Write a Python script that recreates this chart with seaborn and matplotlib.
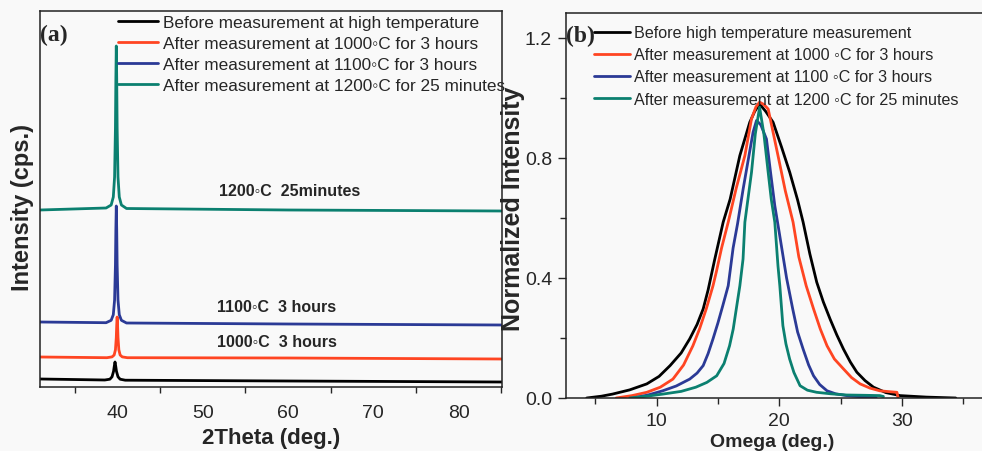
"""XRD 2theta scans and omega rocking curves after high temperature measurement."""

import matplotlib

matplotlib.use("Agg")
import matplotlib.pyplot as plt
import pandas as pd
import seaborn as sns
from matplotlib.ticker import MultipleLocator, NullLocator

# ---- panel (a): 2theta scans (offset, arbitrary cps) ----
theta_black = [30.9, 38.5, 39.1, 39.35, 39.53, 39.62, 39.7, 39.78, 39.87, 40.05, 40.3, 40.9, 60.0, 85.1]
int_black = [8.0, 7.0, 7.8, 10.2, 15.7, 21.0, 25.0, 21.0, 15.7, 10.2, 7.8, 6.8, 6.0, 5.0]

theta_red = [30.9, 38.75, 39.35, 39.6, 39.75, 39.85, 39.9, 39.95, 40.0, 40.05, 40.15, 40.3, 40.55, 41.15, 60.0, 85.1]
int_red = [30.0, 29.3, 30.1, 32.0, 37.2, 49.5, 62.0, 70.0, 62.0, 49.5, 37.2, 32.0, 30.1, 29.3, 29.0, 28.0]

theta_blue = [30.9, 38.65, 39.25, 39.5, 39.65, 39.75, 39.8, 39.85, 39.9, 39.95, 40.05, 40.2, 40.45, 41.05, 60.0, 85.1]
int_blue = [65.0, 64.3, 66.7, 72.3, 87.0, 122.0, 157.5, 181.0, 157.5, 122.0, 87.0, 72.3, 66.7, 64.0, 63.0, 62.0]

theta_teal = [30.9, 38.65, 39.25, 39.5, 39.65, 39.75, 39.8, 39.85, 39.9, 39.95, 40.05, 40.2, 40.45, 41.05, 60.0, 85.1]
int_teal = [177.0, 179.0, 182.0, 190.0, 210.0, 259.0, 308.0, 341.0, 308.0, 259.0, 210.0, 190.0, 182.0, 178.5, 177.0, 176.0]

labels_a = [
    "Before measurement at high temperature",
    "After measurement at 1000\u25e6C for 3 hours",
    "After measurement at 1100\u25e6C for 3 hours",
    "After measurement at 1200\u25e6C for 25 minutes",
]
notes_a = ["1000\u25e6C  3 hours", "1100\u25e6C  3 hours", "1200\u25e6C  25minutes"]

# ---- panel (b): omega rocking curves (normalized) ----
omega_black = [4.3, 5.5, 6.4, 7.8, 9.2, 10.2, 11.1, 12.0, 12.7, 13.3, 13.8, 14.2, 14.73, 15.43,
               16.0, 16.79, 17.6, 18.0, 18.4, 18.9, 19.5, 20.2, 20.86, 21.5, 21.95, 22.5,
               23.06, 23.6, 24.15, 24.7, 25.24, 25.8, 26.33, 27.0, 27.69, 28.7, 29.86, 32.0, 34.4]
norm_black = [0.0, 0.006, 0.013, 0.027, 0.047, 0.072, 0.108, 0.150, 0.197, 0.245, 0.297, 0.36,
              0.46, 0.586, 0.663, 0.808, 0.919, 0.955, 0.98, 0.955, 0.919, 0.835, 0.752, 0.66,
              0.586, 0.48, 0.386, 0.32, 0.263, 0.21, 0.163, 0.12, 0.086, 0.058, 0.036, 0.018,
              0.008, 0.003, 0.0]

omega_red = [6.7, 8.0, 9.2, 10.3, 11.33, 12.2, 12.96, 13.5, 14.05, 14.6, 14.87, 15.3, 15.84,
             16.5, 17.2, 17.74, 18.1, 18.4, 18.75, 19.1, 19.9, 20.5, 21.13, 21.6, 22.2, 22.8,
             23.35, 23.9, 24.5, 25.24, 25.9, 26.6, 27.4, 28.2, 29.0, 29.6, 29.7]
norm_red = [0.0, 0.008, 0.019, 0.036, 0.063, 0.11, 0.174, 0.23, 0.297, 0.374, 0.42, 0.50, 0.586,
            0.70, 0.808, 0.93, 0.97, 0.986, 0.978, 0.963, 0.808, 0.69, 0.586, 0.47, 0.374, 0.297,
            0.23, 0.174, 0.13, 0.097, 0.068, 0.047, 0.033, 0.024, 0.021, 0.019, 0.0]

omega_blue = [8.1, 9.3, 10.5, 11.6, 12.7, 13.3, 13.8, 14.2, 14.6, 15.0, 15.4, 15.84, 16.24,
              16.6, 17.06, 17.5, 17.87, 18.15, 18.5, 18.96, 19.3, 19.64, 20.0, 20.6, 21.1,
              21.5, 21.95, 22.4, 22.8, 23.3, 23.9, 24.6, 25.5, 26.7, 27.9]
norm_blue = [0.0, 0.01, 0.024, 0.04, 0.063, 0.083, 0.108, 0.148, 0.197, 0.25, 0.308, 0.374,
             0.50, 0.58, 0.697, 0.80, 0.886, 0.925, 0.91, 0.863, 0.75, 0.641, 0.552, 0.40,
             0.297, 0.22, 0.163, 0.11, 0.074, 0.045, 0.024, 0.014, 0.008, 0.004, 0.002]

omega_teal = [7.8, 9.2, 10.5, 12.0, 13.2, 14.1, 14.9, 15.5, 15.95, 16.25, 16.5, 16.79, 17.05,
              17.2, 17.45, 17.74, 18.05, 18.4, 18.75, 19.1, 19.35, 19.64, 19.9, 20.05, 20.3,
              20.55, 20.85, 21.2, 21.7, 22.3, 23.05, 24.2, 25.5, 27.0, 28.2, 28.5]
norm_teal = [0.0, 0.006, 0.013, 0.022, 0.036, 0.052, 0.074, 0.115, 0.174, 0.23, 0.297, 0.374,
             0.463, 0.586, 0.663, 0.752, 0.88, 0.969, 0.88, 0.752, 0.663, 0.586, 0.44, 0.374,
             0.241, 0.18, 0.13, 0.085, 0.041, 0.026, 0.019, 0.014, 0.01, 0.009, 0.008, 0.005]

labels_b = [
    "Before high temperature measurement",
    "After measurement at 1000 \u25e6C for 3 hours",
    "After measurement at 1100 \u25e6C for 3 hours",
    "After measurement at 1200 \u25e6C for 25 minutes",
]

colors = ["#000000", "#ff4522", "#2b3a96", "#0b8070"]

sns.set_style("ticks")
plt.rcParams["font.family"] = ["Liberation Sans", "DejaVu Sans"]
plt.rcParams["axes.edgecolor"] = "#222222"
plt.rcParams["axes.linewidth"] = 1.1

W, H = 982, 452
fig = plt.figure(figsize=(W / 100, H / 100), dpi=100, facecolor="#f9f9f9")


def rect(left, top, right, bottom):
    return [left / W, 1 - bottom / H, (right - left) / W, (bottom - top) / H]


ax_a = fig.add_axes(rect(40, 12, 502, 388))
ax_b = fig.add_axes(rect(566, 14, 982, 399))
for ax in (ax_a, ax_b):
    ax.set_facecolor("#f9f9f9")

# panel (a)
series_a = [(theta_black, int_black), (theta_red, int_red),
            (theta_blue, int_blue), (theta_teal, int_teal)]
for (xs, ys), lab, col in zip(series_a, labels_a, colors):
    df = pd.DataFrame({"x": xs, "y": ys})
    sns.lineplot(data=df, x="x", y="y", ax=ax_a, color=col, lw=2.0,
                 label=lab, sort=False, estimator=None)

ax_a.set_xlim(30.9, 85.1)
ax_a.set_ylim(0, 376)
ax_a.yaxis.set_major_locator(NullLocator())
ax_a.xaxis.set_major_locator(MultipleLocator(10))
ax_a.xaxis.set_minor_locator(MultipleLocator(5))
ax_a.tick_params(axis="x", which="major", length=0, pad=12, labelsize=14)
ax_a.tick_params(axis="x", which="minor", length=4, width=1, direction="out")
ax_a.set_xlabel("2Theta (deg.)", fontsize=16, fontweight="bold")
ax_a.set_ylabel("Intensity (cps.)", fontsize=17, fontweight="bold")
ax_a.xaxis.set_label_coords(0.5, -0.133)
ax_a.xaxis.label.set_va("center")
ax_a.yaxis.set_label_coords(-0.037, 0.479)
ax_a.yaxis.label.set_va("center")

ax_a.text(51.7, 45, notes_a[0], fontsize=11.5, fontweight="bold", va="center")
ax_a.text(51.7, 80, notes_a[1], fontsize=11.5, fontweight="bold", va="center")
ax_a.text(51.9, 197, notes_a[2], fontsize=11.5, fontweight="bold", va="center")

ax_a.legend(loc="upper left", bbox_to_anchor=(0.169, 0.989), frameon=False,
            fontsize=12.4, handlelength=2.3, handletextpad=0.3,
            labelspacing=0.35, borderpad=0, borderaxespad=0)

# panel (b)
series_b = [(omega_black, norm_black), (omega_red, norm_red),
            (omega_blue, norm_blue), (omega_teal, norm_teal)]
for (xs, ys), lab, col in zip(series_b, labels_b, colors):
    df = pd.DataFrame({"x": xs, "y": ys})
    sns.lineplot(data=df, x="x", y="y", ax=ax_b, color=col, lw=2.0,
                 label=lab, sort=False, estimator=None)

ax_b.set_xlim(2.61, 36.54)
ax_b.set_ylim(0, 1.283)
ax_b.spines["right"].set_visible(False)
ax_b.xaxis.set_major_locator(MultipleLocator(10))
ax_b.xaxis.set_minor_locator(MultipleLocator(5))
ax_b.yaxis.set_minor_locator(MultipleLocator(0.2))
ax_b.set_yticks([0.0, 0.4, 0.8, 1.2])
ax_b.set_yticklabels(["0.0", "0.4", "0.8", "1.2"])
ax_b.tick_params(which="major", length=6, width=1, direction="out", labelsize=14, pad=4)
ax_b.tick_params(which="minor", length=4, width=1, direction="out")
ax_b.set_xlabel("Omega (deg.)", fontsize=14, fontweight="bold")
ax_b.set_ylabel("Normalized Intensity", fontsize=18, fontweight="bold")
ax_b.xaxis.set_label_coords(0.495, -0.112)
ax_b.xaxis.label.set_va("center")
ax_b.yaxis.set_label_coords(-0.127, 0.4935)
ax_b.yaxis.label.set_va("center")

ax_b.legend(loc="upper left", bbox_to_anchor=(0.0673, 0.968), frameon=False,
            fontsize=11.6, handlelength=2.25, handletextpad=0.25,
            labelspacing=0.44, borderpad=0, borderaxespad=0)

# panel letters
fig.text(40 / W, 1 - 35 / H, "(a)", fontsize=17, fontweight="bold",
         family=["Liberation Serif", "DejaVu Serif"], va="center", ha="left")
fig.text(566 / W, 1 - 36 / H, "(b)", fontsize=17, fontweight="bold",
         family=["Liberation Serif", "DejaVu Serif"], va="center", ha="left")

fig.savefig("out.png", dpi=100, facecolor=fig.get_facecolor())
